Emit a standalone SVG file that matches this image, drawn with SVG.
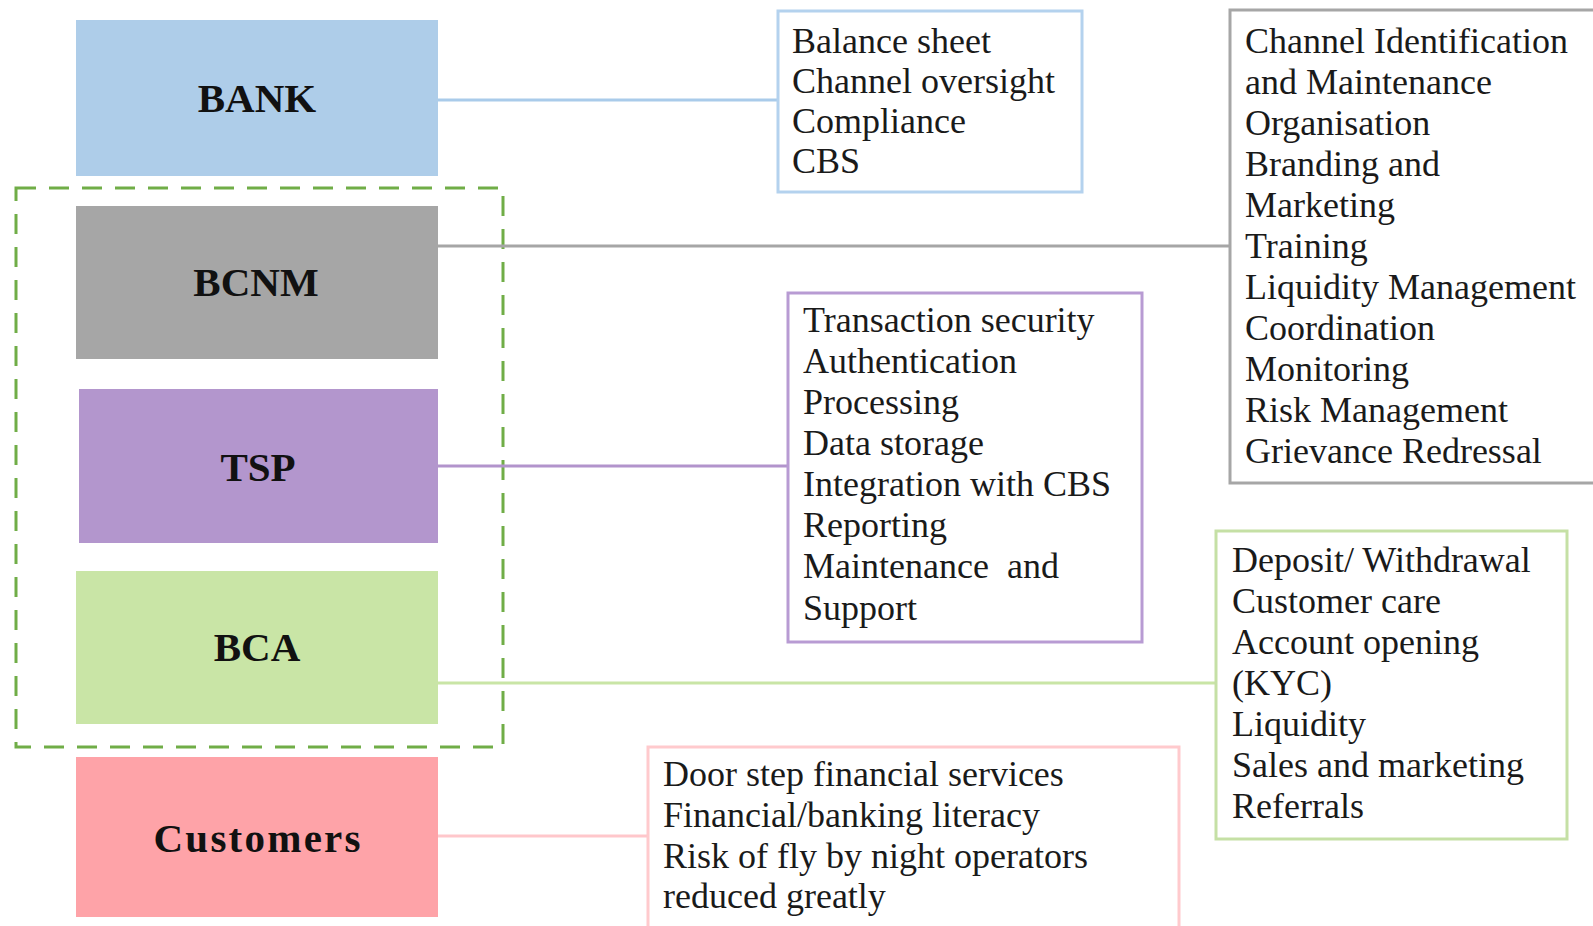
<svg xmlns="http://www.w3.org/2000/svg" width="1593" height="926" viewBox="0 0 1593 926">
<style>
.lbl{font-family:"Liberation Serif","Times New Roman",serif;font-weight:bold;font-size:41px;fill:#111;text-anchor:middle}
.txt{font-family:"Liberation Serif","Times New Roman",serif;font-size:36px;fill:#1a1a1a;white-space:pre}
.conn{stroke-width:3;fill:none}
.box{fill:#fff;stroke-width:3}
</style>
<rect width="1593" height="926" fill="#fff"/>
<g id="group-dashed">
<rect x="16" y="188" width="487" height="559" fill="none" stroke="#70AD47" stroke-width="3" stroke-dasharray="20 13"/>
</g>
<g id="connectors">
<line class="conn" x1="438" y1="100" x2="778" y2="100" stroke="#A9CBEA"/>
<line class="conn" x1="438" y1="246" x2="1229" y2="246" stroke="#A6A6A6"/>
<line class="conn" x1="438" y1="466" x2="788" y2="466" stroke="#B294CC"/>
<line class="conn" x1="438" y1="683" x2="1216" y2="683" stroke="#C9E5A6"/>
<line class="conn" x1="438" y1="836" x2="648" y2="836" stroke="#FFC7CB"/>
</g>
<g id="node-bank">
<rect x="76" y="20" width="362" height="156" fill="#AECDE9"/>
<text class="lbl" x="257" y="112">BANK</text>
</g>
<g id="node-bcnm">
<rect x="76" y="206" width="362" height="153" fill="#A6A6A6"/>
<text class="lbl" x="256" y="296">BCNM</text>
</g>
<g id="node-tsp">
<rect x="79" y="389" width="359" height="154" fill="#B396CD"/>
<text class="lbl" x="258" y="481">TSP</text>
</g>
<g id="node-bca">
<rect x="76" y="571" width="362" height="153" fill="#C9E5A6"/>
<text class="lbl" x="257" y="661">BCA</text>
</g>
<g id="node-customers">
<rect x="76" y="757" width="362" height="160" fill="#FEA3A8"/>
<text class="lbl" x="257" y="852" textLength="207" lengthAdjust="spacing">Customers</text>
</g>
<g id="info-bank">
<rect class="box" x="778" y="11" width="304" height="181" stroke="#B4D2EE"/>
<text class="txt" x="792" y="53">Balance sheet</text>
<text class="txt" x="792" y="93">Channel oversight</text>
<text class="txt" x="792" y="133">Compliance</text>
<text class="txt" x="792" y="173">CBS</text>
</g>
<g id="info-bcnm">
<rect class="box" x="1230" y="10" width="400" height="473" stroke="#A6A6A6"/>
<text class="txt" x="1245" y="53">Channel Identification</text>
<text class="txt" x="1245" y="94">and Maintenance</text>
<text class="txt" x="1245" y="135">Organisation</text>
<text class="txt" x="1245" y="176">Branding and</text>
<text class="txt" x="1245" y="217">Marketing</text>
<text class="txt" x="1245" y="258">Training</text>
<text class="txt" x="1245" y="299">Liquidity Management</text>
<text class="txt" x="1245" y="340">Coordination</text>
<text class="txt" x="1245" y="381">Monitoring</text>
<text class="txt" x="1245" y="422">Risk Management</text>
<text class="txt" x="1245" y="463">Grievance Redressal</text>
</g>
<g id="info-tsp">
<rect class="box" x="788" y="293" width="354" height="349" stroke="#B89BD3"/>
<text class="txt" x="803" y="332">Transaction security</text>
<text class="txt" x="803" y="373">Authentication</text>
<text class="txt" x="803" y="414">Processing</text>
<text class="txt" x="803" y="455">Data storage</text>
<text class="txt" x="803" y="496">Integration with CBS</text>
<text class="txt" x="803" y="537">Reporting</text>
<text class="txt" x="803" y="578" xml:space="preserve">Maintenance  and</text>
<text class="txt" x="803" y="620">Support</text>
</g>
<g id="info-bca">
<rect class="box" x="1216" y="531" width="351" height="308" stroke="#C5E0A5"/>
<text class="txt" x="1232" y="572">Deposit/ Withdrawal</text>
<text class="txt" x="1232" y="613">Customer care</text>
<text class="txt" x="1232" y="654">Account opening</text>
<text class="txt" x="1232" y="695">(KYC)</text>
<text class="txt" x="1232" y="736">Liquidity</text>
<text class="txt" x="1232" y="777">Sales and marketing</text>
<text class="txt" x="1232" y="818">Referrals</text>
</g>
<g id="info-customers">
<rect class="box" x="648" y="747" width="531" height="200" stroke="#FFCACD"/>
<text class="txt" x="663" y="786">Door step financial services</text>
<text class="txt" x="663" y="827">Financial/banking literacy</text>
<text class="txt" x="663" y="868">Risk of fly by night operators</text>
<text class="txt" x="663" y="908">reduced greatly</text>
</g>
</svg>
